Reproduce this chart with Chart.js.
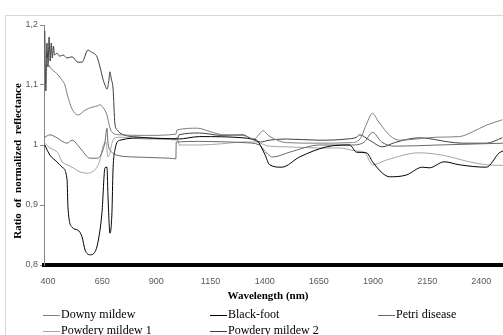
<!DOCTYPE html>
<html>
<head>
<meta charset="utf-8">
<script src="https://cdn.jsdelivr.net/npm/chart.js@4.4.1/dist/chart.umd.min.js"></script>
<style>
  html, body { margin: 0; padding: 0; background: #fff; }
  #wrap { position: relative; width: 503px; height: 335px; }
</style>
</head>
<body>
<div id="wrap"><canvas id="chart" width="503" height="335"></canvas></div>
<script>
// ---------- data ----------
const xTicks = [400, 650, 900, 1150, 1400, 1650, 1900, 2150, 2400];
const yTicks = [0.8, 0.9, 1.0, 1.1, 1.2];

const seriesNames = ['Downy mildew', 'Black-foot', 'Petri disease', 'Powdery mildew 1', 'Powdery mildew 2'];

const downyX = [385, 395, 409, 420, 432, 450, 465, 478, 492, 511, 538, 571, 603, 627, 640, 653, 672, 686, 700, 732, 850, 990, 995, 1091, 1150, 1210, 1300, 1350, 1380, 1391, 1420, 1500, 1650, 1800, 1840, 1870, 1898, 1920, 1944, 1980, 2022, 2100, 2193, 2299, 2360, 2423, 2497];
const downyY = [1.15, 1.14, 1.13, 1.125, 1.122, 1.115, 1.108, 1.1, 1.08, 1.06, 1.05, 1.058, 1.063, 1.065, 1.067, 1.063, 1.05, 1.028, 1.02, 1.017, 1.016, 1.018, 1.025, 1.028, 1.022, 1.017, 1.016, 1.01, 1.02, 1.024, 1.015, 1.004, 1.003, 1.004, 1.01, 1.035, 1.053, 1.042, 1.03, 1.015, 1.008, 1.01, 1.013, 1.014, 1.022, 1.033, 1.042];

const blackX = [385, 409, 441, 465, 488, 492, 511, 538, 557, 571, 594, 617, 630, 649, 663, 672, 677, 686, 695, 700, 709, 732, 850, 1000, 1100, 1300, 1340, 1363, 1400, 1423, 1478, 1561, 1686, 1792, 1824, 1870, 1898, 1944, 1976, 2054, 2128, 2160, 2229, 2299, 2423, 2483, 2500];
const blackY = [1.0, 0.983, 0.972, 0.963, 0.942, 0.897, 0.863, 0.858, 0.847, 0.825, 0.817, 0.822, 0.837, 0.887, 0.962, 0.963, 0.913, 0.853, 0.887, 0.958, 0.992, 1.008, 1.012, 1.01, 1.014, 1.012, 1.01, 1.008, 0.985, 0.967, 0.963, 0.98, 0.997, 1.0, 0.988, 0.987, 0.972, 0.953, 0.947, 0.95, 0.963, 0.962, 0.972, 0.967, 0.963, 0.987, 0.99];

const petriX = [385, 409, 441, 488, 511, 548, 594, 626, 649, 663, 672, 677, 695, 718, 800, 960, 990, 992, 1100, 1300, 1377, 1400, 1437, 1515, 1654, 1800, 1860, 1898, 1940, 2000, 2200, 2400, 2500];
const petriY = [1.013, 1.017, 1.012, 1.003, 1.008, 0.995, 0.978, 0.978, 0.987, 1.005, 1.028, 1.003, 0.988, 0.983, 0.98, 0.978, 0.977, 1.005, 1.006, 1.004, 1.0, 0.99, 0.98, 0.988, 1.0, 1.0, 1.005, 1.021, 1.005, 0.998, 1.0, 1.002, 1.003];

const pm1X = [385, 409, 445, 465, 488, 511, 548, 580, 603, 626, 640, 653, 667, 677, 686, 695, 709, 732, 850, 1000, 1005, 1100, 1200, 1300, 1360, 1420, 1500, 1650, 1746, 1824, 1860, 1898, 1962, 2114, 2220, 2345, 2423, 2500];
const pm1Y = [1.003, 0.995, 0.987, 0.972, 0.967, 0.963, 0.955, 0.953, 0.955, 0.963, 0.975, 0.997, 1.005, 0.98, 0.987, 1.003, 1.012, 1.013, 1.01, 1.008, 1.0, 1.0, 1.002, 1.005, 1.005, 0.998, 0.997, 0.995, 0.995, 0.99, 0.988, 0.967, 0.975, 0.987, 0.983, 0.972, 0.967, 0.966];

const pm2X = [385, 390, 395, 400, 405, 410, 415, 420, 425, 430, 441, 455, 470, 488, 511, 538, 557, 584, 600, 626, 640, 655, 663, 672, 680, 686, 692, 700, 709, 720, 732, 824, 962, 1000, 1005, 1100, 1200, 1300, 1330, 1380, 1420, 1500, 1650, 1780, 1824, 1838, 1884, 1944, 2000, 2114, 2252, 2312, 2423, 2497];
const pm2Y = [1.19, 1.09, 1.17, 1.13, 1.18, 1.14, 1.17, 1.145, 1.165, 1.15, 1.153, 1.148, 1.15, 1.145, 1.147, 1.138, 1.138, 1.158, 1.155, 1.147, 1.13, 1.108, 1.1, 1.093, 1.105, 1.122, 1.11, 1.095, 1.035, 1.025, 1.02, 1.013, 1.01, 1.012, 1.017, 1.02, 1.016, 1.017, 1.012, 1.005, 1.008, 1.01, 1.008, 1.01, 1.013, 1.017, 1.008, 0.997, 1.004, 1.012, 1.005, 1.003, 1.003, 1.012];

// ---------- styling ----------
const COLORS = ['#7f7f7f', '#000000', '#6a6a6a', '#a6a6a6', '#404040'];
const SERIF = "'Liberation Serif', 'Times New Roman', serif";
const SANS = "'Liberation Sans', Arial, sans-serif";

function toPoints(xs, ys) {
  return xs.map((x, i) => ({ x, y: ys[i] }));
}

const seriesData = [
  toPoints(downyX, downyY),
  toPoints(blackX, blackY),
  toPoints(petriX, petriY),
  toPoints(pm1X, pm1Y),
  toPoints(pm2X, pm2Y),
];

// legend slots: [line start x, baseline y]
const LEGEND_SLOTS = [[43, 315], [210, 315], [378, 315], [43, 331], [210, 331]];

const decorations = {
  id: 'decorations',
  beforeDraw(chart) {
    const c = chart.ctx;
    c.save();
    c.fillStyle = '#fff';
    c.fillRect(0, 0, chart.width, chart.height);
    // outer frame (cropped)
    c.strokeStyle = '#d9d9d9';
    c.lineWidth = 1;
    c.beginPath();
    c.moveTo(5.5, chart.height);
    c.lineTo(5.5, 15.5);
    c.lineTo(chart.width, 15.5);
    c.stroke();
    c.restore();
  },
  afterDraw(chart) {
    const c = chart.ctx;
    c.save();
    // axis titles
    c.fillStyle = '#000';
    c.font = 'bold 11px ' + SERIF;
    c.textAlign = 'center';
    c.textBaseline = 'middle';
    c.fillText('Wavelength (nm)', 268, 296);
    c.translate(18, 161);
    c.rotate(-Math.PI / 2);
    c.fillText('Ratio  of  normalized  reflectance', 0, 0);
    c.restore();

    // legend
    c.save();
    c.font = '12px ' + SERIF;
    c.textAlign = 'left';
    c.textBaseline = 'middle';
    seriesNames.forEach((name, i) => {
      const [lx, ly] = LEGEND_SLOTS[i];
      c.strokeStyle = COLORS[i];
      c.lineWidth = 1;
      c.beginPath();
      c.moveTo(lx, ly + 0.5);
      c.lineTo(lx + 17, ly + 0.5);
      c.stroke();
      c.fillStyle = '#000';
      c.fillText(name, lx + 18, ly);
    });
    c.restore();
  }
};

new Chart(document.getElementById('chart'), {
  type: 'line',
  data: {
    datasets: seriesNames.map((name, i) => ({
      label: name,
      data: seriesData[i],
      borderColor: COLORS[i],
      backgroundColor: COLORS[i],
      borderWidth: 1,
      pointRadius: 0,
      cubicInterpolationMode: 'monotone',
      fill: false,
    })),
  },
  options: {
    responsive: false,
    animation: false,
    layout: { padding: { top: 25, right: 0, left: 0, bottom: 0 } },
    plugins: {
      legend: { display: false },
      tooltip: { enabled: false },
    },
    scales: {
      x: {
        type: 'linear',
        min: 381.5,
        max: 2500,
        afterBuildTicks: s => { s.ticks = xTicks.map(v => ({ value: v })); },
        afterFit: s => { s.height = 70; },
        grid: { display: false },
        border: { display: true, color: '#000', width: 4 },
        ticks: {
          color: '#595959',
          font: { family: SANS, size: 9 },
          padding: 3,
          maxRotation: 0,
          callback: v => String(v),
        },
      },
      y: {
        min: 0.8,
        max: 1.2,
        afterBuildTicks: s => { s.ticks = yTicks.map(v => ({ value: v })); },
        afterFit: s => { s.width = 44; },
        grid: { drawOnChartArea: false, drawTicks: true, tickLength: 4, color: '#868686' },
        border: { display: true, color: '#868686', width: 1 },
        ticks: {
          color: '#595959',
          font: { family: SANS, size: 9 },
          padding: 2,
          callback: v => (Math.abs(v - 1) < 1e-9 ? '1' : v.toFixed(1).replace('.', ',')),
        },
      },
    },
  },
  plugins: [decorations],
});
</script>
</body>
</html>
